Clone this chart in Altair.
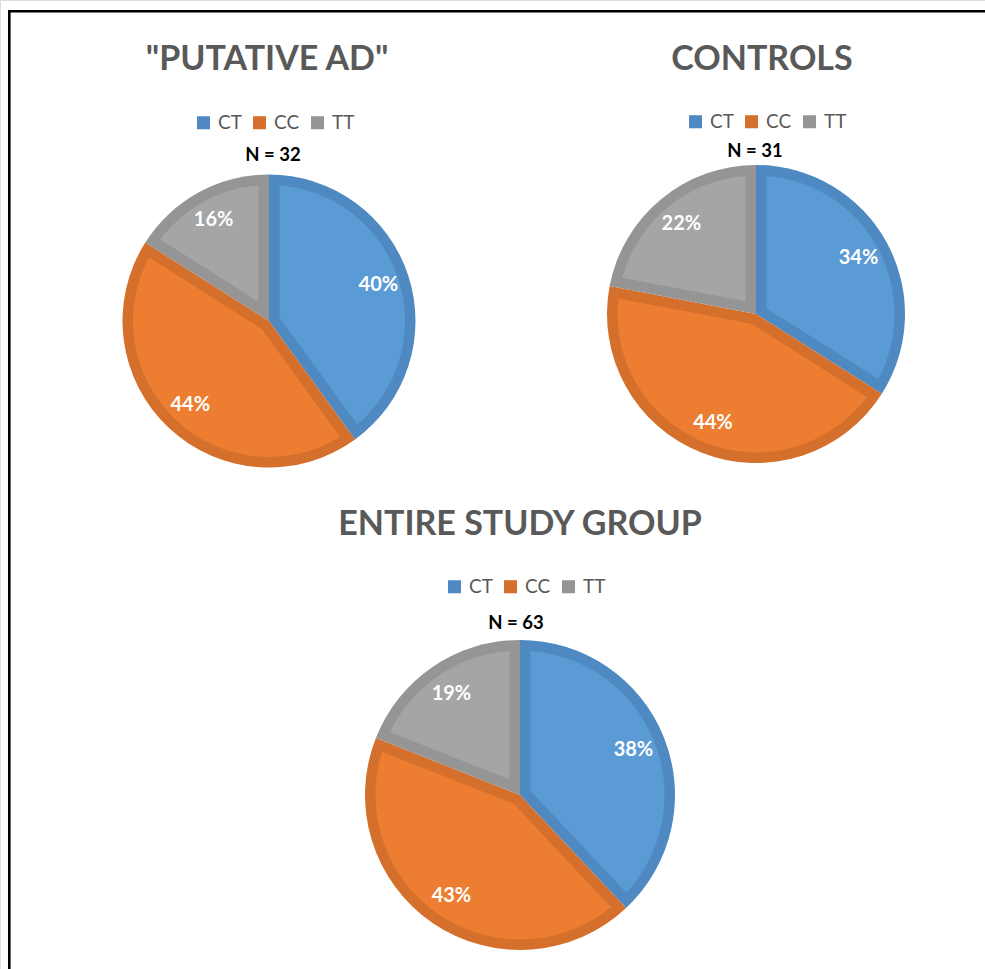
import math

import altair as alt
import pandas as pd

# ---- data -------------------------------------------------------------
GENOTYPES = ["CT", "CC", "TT"]
PANEL_TITLES = ['"PUTATIVE AD"', "CONTROLS", "ENTIRE STUDY GROUP"]
N_LABELS = ["N = 32", "N = 31", "N = 63"]
PCT_PUTATIVE_AD = [40, 44, 16]
PCT_CONTROLS = [34, 44, 22]
PCT_ENTIRE = [38, 43, 19]

FILL_COLORS = ["#5B9BD5", "#ED7D31", "#A5A5A5"]
EDGE_COLORS = ["#4F89C2", "#D56F2C", "#959595"]

FONT = "Lato"
GREY_TEXT = "#595959"
BORDER = 10.5  # width of the darker edge drawn inside every slice

# ---- layout of the three panels (pixels) -------------------------------
PANELS = [
    dict(cx=269, cy=321, r=146.5, lab_r=115, title_x=267, title_y=70,
         leg_x=194, leg_y=113, n_x=273, n_y=161),
    dict(cx=756, cy=314, r=149, lab_r=117, title_x=762, title_y=70,
         leg_x=686, leg_y=112, n_x=755, n_y=157),
    dict(cx=520, cy=795, r=155, lab_r=122, title_x=520, title_y=535,
         leg_x=445, leg_y=577, n_x=516, n_y=629),
]

frames = []
for name, pcts in zip(PANEL_TITLES, [PCT_PUTATIVE_AD, PCT_CONTROLS, PCT_ENTIRE]):
    frames.append(pd.DataFrame({
        "group": name,
        "genotype": GENOTYPES,
        "pct": pcts,
        "order": list(range(len(GENOTYPES))),
        "label": [f"{p}%" for p in pcts],
    }))
df = pd.concat(frames, ignore_index=True)

single = pd.DataFrame({"k": [0]})

fill_scale = alt.Scale(domain=GENOTYPES, range=FILL_COLORS)
edge_scale = alt.Scale(domain=GENOTYPES, range=EDGE_COLORS)

layers = []

# frame line along the top and left edges
layers.append(
    alt.Chart(single).mark_rect(fill=None, stroke="black", strokeWidth=2.6).encode(
        x=alt.value(9.3), y=alt.value(11.2), x2=alt.value(1200), y2=alt.value(1200)
    )
)

# inner corner of an inset slice: the point where both edges, moved inwards
# by BORDER, meet (slice angle = 2*PI*pct/100)
apex = f"{BORDER} * 1.02 / sin(PI * datum.pct / 100)"

for name, n_label, p in zip(PANEL_TITLES, N_LABELS, PANELS):
    base = alt.Chart(df).transform_filter(alt.datum.group == name)
    theta = alt.Theta("pct:Q", stack=True, scale=alt.Scale(domain=[0, 100]))
    inner_r = p["r"] - BORDER

    # full slices in the darker edge colour, with their legend
    edge = base.mark_arc(radius=p["r"]).encode(
        theta=theta,
        order=alt.Order("order:Q"),
        fill=alt.Fill(
            "genotype:N",
            scale=edge_scale,
            legend=alt.Legend(
                title=None,
                orient="none",
                legendX=p["leg_x"],
                legendY=p["leg_y"],
                direction="horizontal",
                symbolType="square",
                symbolSize=170,
                symbolStrokeWidth=0,
                labelFont=FONT,
                labelFontSize=19,
                labelColor=GREY_TEXT,
                labelOffset=5,
                columnPadding=8,
                padding=0,
            ),
        ),
        x=alt.value(p["cx"]),
        y=alt.value(p["cy"]),
    )

    # lighter slices inset by BORDER on every side
    face = base.mark_arc(
        radius=inner_r,
        innerRadius=alt.expr(apex),
        padAngle=2 * math.asin(BORDER / inner_r),
    ).encode(
        theta=theta,
        order=alt.Order("order:Q"),
        color=alt.Color("genotype:N", scale=fill_scale, legend=None),
        x=alt.value(p["cx"]),
        y=alt.value(p["cy"]),
    )

    labels = base.mark_text(
        radius=p["lab_r"], font=FONT, fontSize=20, fontWeight="bold",
        color="white", align="center", baseline="middle",
    ).encode(
        theta=theta,
        order=alt.Order("order:Q"),
        text="label:N",
        x=alt.value(p["cx"]),
        y=alt.value(p["cy"]),
    )

    title = alt.Chart(single).mark_text(
        text=name, font=FONT, fontSize=34, fontWeight="bold",
        color=GREY_TEXT, align="center", baseline="alphabetic",
    ).encode(x=alt.value(p["title_x"]), y=alt.value(p["title_y"]))

    n_text = alt.Chart(single).mark_text(
        text=n_label, font=FONT, fontSize=18.5, fontWeight="bold",
        color="black", align="center", baseline="alphabetic",
    ).encode(x=alt.value(p["n_x"]), y=alt.value(p["n_y"]))

    layers += [edge, face, labels, title, n_text]

chart = (
    alt.layer(*layers)
    .resolve_scale(fill="independent", color="independent", theta="independent")
    .properties(width=985, height=969, autosize=alt.AutoSizeParams(type="none"), padding=0)
    .configure_view(stroke=None)
    .configure(background="white")
)

chart.save("out.html", embed_options={"renderer": "svg", "actions": False})
